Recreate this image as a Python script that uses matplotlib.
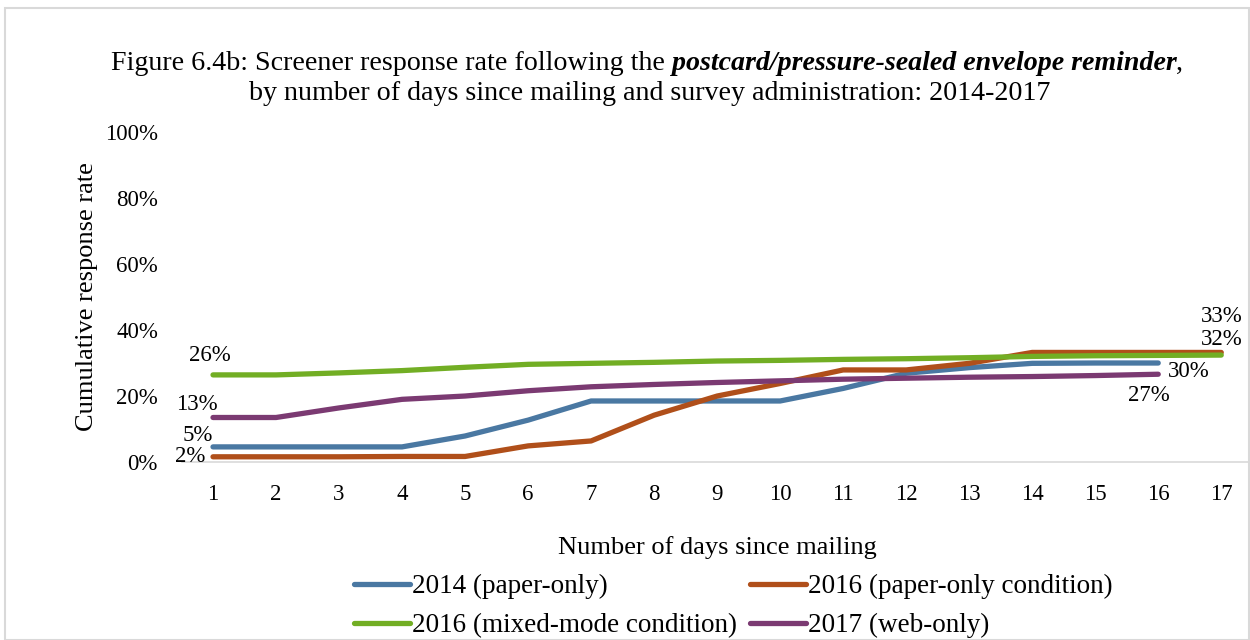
import matplotlib.pyplot as plt
from matplotlib.patches import Rectangle

days = list(range(1, 18))

rate_2014 = [4.6, 4.6, 4.6, 4.6, 7.9, 12.7, 18.5, 18.5, 18.5, 18.5, 22.3, 26.9, 28.6, 29.9, 30.0, 30.0]
rate_2016_paper = [1.6, 1.6, 1.6, 1.7, 1.7, 4.9, 6.4, 14.2, 20.0, 23.8, 27.9, 27.9, 29.9, 33.2, 33.2, 33.2, 33.2]
rate_2016_mixed = [26.4, 26.4, 27.0, 27.7, 28.7, 29.6, 29.9, 30.2, 30.6, 30.8, 31.1, 31.3, 31.6, 32.0, 32.2, 32.3, 32.4]
rate_2017 = [13.5, 13.5, 16.4, 19.0, 20.0, 21.6, 22.8, 23.5, 24.1, 24.6, 25.1, 25.4, 25.7, 25.9, 26.2, 26.6]

series_names = ["2014 (paper-only)", "2016 (paper-only condition)",
                "2016 (mixed-mode condition)", "2017 (web-only)"]
colors = ["#4a78a2", "#b04f1a", "#72ae24", "#7b3a72"]

yticks = [0, 20, 40, 60, 80, 100]

plt.rcParams["font.family"] = ["Liberation Serif", "DejaVu Serif"]

fig = plt.figure(figsize=(12.5, 6.4), dpi=100)
fig.patches.append(Rectangle((0.004, 0.0), 0.995, 0.987, transform=fig.transFigure,
                             fill=False, edgecolor="#d9d9d9", linewidth=1.5))

ax = fig.add_axes([0.1452, 0.278, 0.857, 0.516])

all_series = [rate_2014, rate_2016_paper, rate_2016_mixed, rate_2017]
lines = []
for vals, name, c in zip(all_series, series_names, colors):
    ln, = ax.plot(days[:len(vals)], vals, color=c, linewidth=3.8,
                  solid_capstyle="round", solid_joinstyle="round", label=name)
    lines.append(ln)

ax.set_xlim(0.5, 17.5)
ax.set_ylim(0, 100)
ax.set_xticks(days)
ax.set_yticks(yticks)
ax.set_yticklabels([f"{v}%" for v in yticks])
ax.tick_params(axis="both", length=0, labelsize=16.5)
ax.tick_params(axis="x", pad=16)
ax.tick_params(axis="y", pad=17)
for side in ["top", "right", "left"]:
    ax.spines[side].set_visible(False)
ax.spines["bottom"].set_color("#d9d9d9")
ax.spines["bottom"].set_linewidth(1.2)

ax.set_xlabel("Number of days since mailing", fontsize=19, labelpad=22)
ax.set_ylabel("Cumulative response rate", fontsize=19, labelpad=5)

# data labels
fs = 16.5
ax.annotate("26%", (1, rate_2016_mixed[0]), xytext=(-3, 19), textcoords="offset pixels",
            ha="center", va="center", fontsize=fs)
ax.annotate("13%", (1, rate_2017[0]), xytext=(-16, 13), textcoords="offset pixels",
            ha="center", va="center", fontsize=fs)
ax.annotate("5%", (1, rate_2014[0]), xytext=(-15, 11), textcoords="offset pixels",
            ha="center", va="center", fontsize=fs)
ax.annotate("2%", (1, rate_2016_paper[0]), xytext=(-23, 0), textcoords="offset pixels",
            ha="center", va="center", fontsize=fs)
ax.annotate("33%", (17, rate_2016_paper[-1]), xytext=(1, 36), textcoords="offset pixels",
            ha="center", va="center", fontsize=fs)
ax.annotate("32%", (17, rate_2016_mixed[-1]), xytext=(1, 16), textcoords="offset pixels",
            ha="center", va="center", fontsize=fs)
ax.annotate("30%", (16, rate_2014[-1]), xytext=(31, -8), textcoords="offset pixels",
            ha="center", va="center", fontsize=fs)
ax.annotate("27%", (16, rate_2017[-1]), xytext=(-9, -21), textcoords="offset pixels",
            ha="center", va="center", fontsize=fs)

# legend rows: [2014, 2016 paper] / [2016 mixed, 2017]
order = [0, 2, 1, 3]
fig.legend(handles=[lines[i] for i in order], loc="upper left",
           bbox_to_anchor=(354 / 1250, 1 - 574 / 640), ncol=2,
           frameon=False, fontsize=19.5, handlelength=2.05, handletextpad=0.08,
           columnspacing=0.5, labelspacing=0.52, borderpad=0, borderaxespad=0)

# title with bold-italic segment, centred on one line
title_parts = [("Figure 6.4b: Screener response rate following the ", "normal", "normal"),
               ("postcard/pressure-sealed envelope reminder", "bold", "italic"),
               (",", "normal", "normal")]
fig.canvas.draw()
renderer = fig.canvas.get_renderer()
texts = []
for s, w, st in title_parts:
    t = fig.text(0, 1 - 63 / 640, s, fontsize=20.2, fontweight=w, fontstyle=st,
                 ha="left", va="center")
    texts.append(t)
widths = [t.get_window_extent(renderer).width for t in texts]
x = 647 - sum(widths) / 2
for t, w in zip(texts, widths):
    t.set_x(x / 1250)
    x += w
fig.text(650 / 1250, 1 - 94 / 640,
         "by number of days since mailing and survey administration: 2014-2017",
         fontsize=20.2, ha="center", va="center")

fig.savefig("out.png", dpi=100)
